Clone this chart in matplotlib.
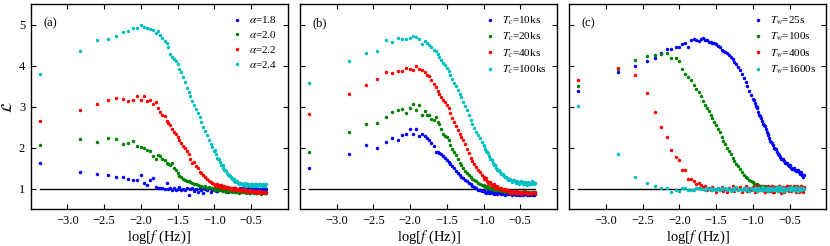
import matplotlib
matplotlib.use("Agg")
import matplotlib.pyplot as plt

plt.rcParams['font.family'] = ['Liberation Serif', 'DejaVu Serif']
plt.rcParams['mathtext.fontset'] = 'stix'

# log10 of frequency (Hz), shared by all series
LOG_F = [-3.375, -2.83, -2.60, -2.446, -2.334, -2.245, -2.171, -2.108, -2.053, -2.004,
         -1.96, -1.92, -1.88, -1.84, -1.80, -1.77, -1.74, -1.71,
         -1.675, -1.65, -1.625, -1.60, -1.575, -1.55, -1.525, -1.50, -1.475, -1.45,
         -1.425, -1.40, -1.375, -1.35, -1.325, -1.30, -1.275, -1.25, -1.225, -1.20,
         -1.175, -1.15, -1.125, -1.10, -1.075, -1.05, -1.025, -1.00, -0.975, -0.95,
         -0.925, -0.90, -0.875, -0.85, -0.825, -0.80, -0.775, -0.75, -0.725, -0.70,
         -0.675, -0.65, -0.625, -0.60, -0.575, -0.55, -0.525, -0.50, -0.475, -0.45,
         -0.425, -0.40, -0.375, -0.35, -0.325, -0.30]
# extra frequencies in the dense high-f part
LOG_F_TAIL = [-0.9875, -0.9625, -0.9375, -0.9125, -0.8875, -0.8625, -0.8375,
              -0.8125, -0.7875, -0.7625, -0.7375, -0.7125, -0.6875, -0.6625,
              -0.6375, -0.6125, -0.5875, -0.5625, -0.5375, -0.5125, -0.4875,
              -0.4625, -0.4375, -0.4125, -0.3875, -0.3625, -0.3375, -0.3125]

# panel (a): alpha
a_18 = [1.62, 1.42, 1.37, 1.35, 1.30, 1.29, 1.25, 1.22, 1.22, 1.34,
        1.15, 1.10, 1.22, 1.26, 1.05, 1.02, 1.01, 1.03,
        1.00, 1.14, 0.99, 1.01, 0.97, 1.03, 0.98, 1.00, 1.04, 0.96,
        1.00, 0.97, 1.02, 0.86, 0.99, 1.01, 0.95, 1.00, 0.93, 1.02,
        0.98, 0.90, 1.00, 0.96, 1.01, 0.92, 0.98, 1.00, 0.94, 0.99,
        1.01, 0.97, 1.00, 0.96, 1.02, 0.98, 1.00, 0.97, 1.01, 0.99,
        0.96, 1.02, 0.98, 1.00, 0.97, 1.01, 0.99, 0.96, 1.00, 0.98,
        1.02, 0.97, 1.00, 0.98, 0.96, 1.00]
a_18_tail = [1.03, 0.95, 1.01, 0.98, 1.04, 0.96, 1.00, 0.93, 1.02, 0.99, 0.95, 1.03, 0.97, 1.00,
             0.94, 1.02, 0.98, 1.01, 0.95, 1.03, 0.97, 1.00, 0.96, 1.02, 0.98, 0.95, 1.01, 0.97]
a_20 = [2.08, 2.21, 2.15, 2.23, 2.21, 2.09, 2.12, 2.17, 2.04, 2.02,
        1.99, 1.95, 1.92, 1.80, 1.73, 1.82, 1.80, 1.72,
        1.70, 1.64, 1.60, 1.58, 1.62, 1.50, 1.45, 1.38, 1.32, 1.28,
        1.25, 1.22, 1.20, 1.20, 1.16, 1.14, 1.12, 1.12, 1.09, 1.08,
        1.06, 1.05, 1.07, 1.03, 1.04, 1.01, 1.03, 1.00, 1.01, 0.98,
        0.99, 0.97, 0.98, 0.96, 0.97, 0.95, 0.96, 0.94, 0.96, 0.93,
        0.95, 0.94, 0.92, 0.95, 0.93, 0.94, 0.91, 0.93, 0.92, 0.94,
        0.91, 0.92, 0.90, 0.93, 0.89, 0.91]
a_20_tail = [0.97, 1.02, 0.96, 1.00, 0.94, 0.99, 0.93, 0.97, 0.95, 0.92, 0.97, 0.93, 0.96, 0.91,
             0.95, 0.92, 0.96, 0.90, 0.94, 0.91, 0.95, 0.89, 0.93, 0.90, 0.94, 0.88, 0.92, 0.90]
a_22 = [2.65, 2.93, 3.06, 3.18, 3.22, 3.19, 3.14, 3.17, 3.26, 3.18,
        3.26, 3.14, 3.18, 3.06, 3.12, 2.97, 2.88, 2.80,
        2.78, 2.66, 2.60, 2.56, 2.45, 2.38, 2.33, 2.27, 2.20, 2.12,
        2.05, 1.99, 1.92, 1.86, 1.72, 1.62, 1.65, 1.55, 1.50, 1.42,
        1.38, 1.33, 1.28, 1.24, 1.20, 1.17, 1.14, 1.12, 1.10, 1.08,
        1.09, 1.06, 1.07, 1.04, 1.05, 1.02, 1.03, 1.00, 1.01, 0.98,
        0.99, 0.97, 0.98, 0.96, 0.97, 0.95, 0.96, 0.94, 0.95, 0.93,
        0.95, 0.93, 0.94, 0.92, 0.93, 0.92]
a_22_tail = [1.08, 1.13, 1.05, 1.10, 1.03, 1.08, 1.01, 1.05, 0.99, 1.03, 0.98, 1.01, 0.96, 0.99,
             0.95, 0.99, 0.94, 0.97, 0.93, 0.96, 0.92, 0.95, 0.93, 0.91, 0.94, 0.90, 0.93, 0.91]
a_24 = [3.81, 4.36, 4.62, 4.65, 4.72, 4.83, 4.86, 4.92, 4.93, 5.00,
        4.95, 4.93, 4.89, 4.88, 4.80, 4.84, 4.76, 4.68,
        4.60, 4.56, 4.45, 4.30, 4.22, 4.17, 4.13, 4.05, 3.93, 3.85,
        3.74, 3.60, 3.46, 3.36, 3.26, 3.15, 3.05, 2.95, 2.85, 2.76,
        2.62, 2.51, 2.42, 2.32, 2.20, 2.10, 2.02, 1.93, 1.84, 1.74,
        1.65, 1.58, 1.52, 1.45, 1.38, 1.33, 1.28, 1.24, 1.20, 1.18,
        1.15, 1.14, 1.12, 1.13, 1.10, 1.12, 1.09, 1.11, 1.08, 1.12,
        1.10, 1.09, 1.11, 1.08, 1.10, 1.12]
a_24_tail = [1.95, 1.75, 1.72, 1.59, 1.58, 1.46, 1.44, 1.33, 1.32, 1.23, 1.24, 1.16, 1.18, 1.12,
             1.15, 1.09, 1.14, 1.08, 1.13, 1.07, 1.12, 1.08, 1.13, 1.07, 1.12, 1.06, 1.13, 1.08]

# panel (b): Tc
b_10 = [1.50, 1.85, 2.07, 1.99, 2.15, 2.25, 2.19, 2.31, 2.34, 2.46,
        2.35, 2.46, 2.28, 2.35, 2.28, 2.24, 2.20, 2.12,
        2.05, 1.91, 1.90, 1.88, 1.84, 1.80, 1.75, 1.70, 1.66, 1.60,
        1.55, 1.50, 1.43, 1.38, 1.34, 1.30, 1.26, 1.22, 1.18, 1.14,
        1.11, 1.08, 1.05, 1.02, 0.98, 0.96, 0.94, 0.95, 0.92, 0.93,
        0.91, 0.92, 0.90, 0.92, 0.89, 0.91, 0.90, 0.88, 0.91, 0.89,
        0.90, 0.88, 0.89, 0.87, 0.90, 0.88, 0.89, 0.86, 0.88, 0.87,
        0.89, 0.86, 0.88, 0.87, 0.85, 0.87]
b_10_tail = [0.97, 0.90, 0.95, 0.89, 0.93, 0.88, 0.93, 0.87, 0.92, 0.88, 0.91, 0.86, 0.92, 0.87,
             0.90, 0.86, 0.91, 0.85, 0.89, 0.86, 0.90, 0.84, 0.89, 0.86, 0.88, 0.85, 0.89, 0.86]
b_20 = [1.89, 2.39, 2.58, 2.61, 2.76, 2.88, 2.93, 2.96, 2.86, 2.98,
        3.06, 2.93, 3.05, 2.81, 2.90, 2.80, 2.80, 2.70,
        2.67, 2.76, 2.62, 2.58, 2.45, 2.35, 2.30, 2.27, 2.18, 2.08,
        1.98, 1.90, 1.83, 1.74, 1.63, 1.58, 1.50, 1.44, 1.38, 1.33,
        1.28, 1.24, 1.21, 1.18, 1.14, 1.12, 1.10, 1.08, 1.06, 1.05,
        1.03, 1.02, 1.00, 0.99, 0.97, 0.98, 0.96, 0.95, 0.96, 0.94,
        0.95, 0.93, 0.94, 0.92, 0.94, 0.93, 0.91, 0.93, 0.92, 0.94,
        0.91, 0.93, 0.92, 0.90, 0.93, 0.92]
b_20_tail = [1.10, 1.03, 1.08, 1.00, 1.04, 0.98, 1.01, 0.96, 0.99, 0.94, 0.97, 0.93, 0.96, 0.92,
             0.95, 0.91, 0.95, 0.90, 0.94, 0.91, 0.93, 0.89, 0.94, 0.90, 0.93, 0.89, 0.92, 0.90]
b_40 = [2.82, 3.32, 3.54, 3.67, 3.84, 3.82, 3.87, 3.87, 3.94, 3.92,
        3.90, 3.99, 3.92, 3.89, 3.85, 3.79, 3.76, 3.65,
        3.55, 3.48, 3.39, 3.32, 3.25, 3.18, 3.12, 3.05, 2.98, 2.85,
        2.74, 2.63, 2.53, 2.43, 2.35, 2.27, 2.18, 2.10, 1.98, 1.88,
        1.76, 1.68, 1.60, 1.53, 1.46, 1.40, 1.34, 1.30, 1.25, 1.20,
        1.16, 1.12, 1.10, 1.07, 1.05, 1.03, 1.01, 1.00, 0.98, 0.96,
        0.97, 0.95, 0.93, 0.94, 0.92, 0.93, 0.91, 0.92, 0.90, 0.92,
        0.91, 0.89, 0.91, 0.90, 0.92, 0.91]
b_40_tail = [1.24, 1.26, 1.15, 1.17, 1.08, 1.11, 1.03, 1.06, 0.99, 1.03, 0.96, 0.99, 0.94, 0.97,
             0.91, 0.95, 0.90, 0.94, 0.89, 0.93, 0.88, 0.92, 0.89, 0.92, 0.88, 0.91, 0.89, 0.90]
b_100 = [3.59, 4.11, 4.32, 4.36, 4.62, 4.58, 4.67, 4.65, 4.65, 4.67,
         4.74, 4.70, 4.65, 4.54, 4.60, 4.56, 4.52, 4.46,
         4.40, 4.36, 4.29, 4.22, 4.15, 4.08, 4.01, 3.94, 3.87, 3.77,
         3.68, 3.59, 3.50, 3.40, 3.32, 3.24, 3.12, 3.02, 2.92, 2.80,
         2.68, 2.58, 2.48, 2.39, 2.31, 2.23, 2.15, 2.06, 1.98, 1.90,
         1.80, 1.72, 1.64, 1.58, 1.52, 1.46, 1.41, 1.36, 1.32, 1.29,
         1.26, 1.23, 1.21, 1.19, 1.18, 1.16, 1.17, 1.14, 1.16, 1.13,
         1.15, 1.12, 1.15, 1.13, 1.16, 1.14]
b_100_tail = [2.05, 1.92, 1.87, 1.74, 1.70, 1.59, 1.57, 1.47, 1.45, 1.37, 1.36, 1.29, 1.30, 1.22,
              1.24, 1.17, 1.21, 1.14, 1.19, 1.12, 1.18, 1.11, 1.17, 1.10, 1.17, 1.11, 1.18, 1.12]

# panel (c): Tw
c_25 = [3.38, 3.84, 3.99, 4.13, 4.20, 4.32, 4.41, 4.41, 4.47, 4.46,
        4.54, 4.55, 4.47, 4.62, 4.66, 4.63, 4.60, 4.66,
        4.67, 4.64, 4.63, 4.59, 4.58, 4.56, 4.55, 4.53, 4.49, 4.45,
        4.40, 4.36, 4.34, 4.31, 4.26, 4.22, 4.17, 4.10, 4.04, 3.98,
        3.91, 3.80, 3.70, 3.60, 3.50, 3.38, 3.28, 3.20, 3.10, 3.00,
        2.88, 2.77, 2.66, 2.55, 2.45, 2.35, 2.24, 2.15, 2.06, 1.98,
        1.91, 1.83, 1.77, 1.72, 1.68, 1.63, 1.59, 1.56, 1.52, 1.49,
        1.47, 1.44, 1.41, 1.38, 1.35, 1.33]
c_25_tail = [3.18, 3.02, 2.97, 2.80, 2.74, 2.58, 2.53, 2.38, 2.32, 2.17, 2.13, 2.00, 1.97, 1.85,
             1.83, 1.73, 1.72, 1.64, 1.64, 1.55, 1.57, 1.48, 1.51, 1.43, 1.45, 1.37, 1.40, 1.30]
c_100 = [3.50, 3.93, 4.15, 4.25, 4.26, 4.29, 4.31, 4.20, 4.19, 4.13,
         3.92, 3.81, 3.72, 3.66, 3.53, 3.44, 3.36, 3.27,
         3.15, 3.05, 2.98, 2.90, 2.80, 2.74, 2.64, 2.55, 2.47, 2.39,
         2.27, 2.17, 2.10, 2.00, 1.93, 1.86, 1.76, 1.69, 1.61, 1.55,
         1.48, 1.41, 1.35, 1.30, 1.26, 1.22, 1.19, 1.16, 1.13, 1.11,
         1.09, 1.07, 1.06, 1.05, 1.04, 1.03, 1.05, 1.02, 1.04, 1.03,
         1.01, 1.04, 1.02, 1.03, 1.01, 1.04, 1.02, 1.03, 1.01, 1.04,
         1.02, 1.03, 1.02, 1.04, 1.01, 1.03]
c_100_tail = [1.12, 1.07, 1.10, 1.04, 1.07, 1.02, 1.06, 1.00, 1.05, 1.01, 1.06, 0.99, 1.05, 1.02,
              1.06, 1.00, 1.05, 1.01, 1.06, 0.99, 1.05, 1.00, 1.06, 1.01, 1.05, 0.99, 1.06, 1.00]
c_400 = [3.65, 3.94, 3.77, 3.34, 2.88, 2.50, 2.26, 1.95, 1.77, 1.70,
         1.46, 1.45, 1.23, 1.25, 1.20, 1.12, 1.15, 1.10,
         1.05, 1.08, 0.98, 1.03, 0.96, 1.04, 0.99, 0.93, 1.02, 0.97,
         1.05, 0.95, 1.00, 0.92, 1.03, 0.97, 1.06, 0.94, 1.01, 0.96,
         1.04, 0.93, 1.00, 1.07, 0.95, 1.02, 0.97, 1.05, 0.93, 1.01,
         1.08, 0.96, 1.03, 0.94, 1.00, 1.06, 0.95, 1.02, 0.92, 1.04,
         0.97, 1.07, 0.95, 1.01, 0.93, 1.05, 0.98, 1.06, 0.94, 1.03,
         0.96, 1.07, 0.93, 1.02, 0.95, 1.04]
c_400_tail = [0.99, 1.06, 0.94, 1.03, 0.97, 1.08, 0.92, 1.01, 1.05, 0.95, 1.07, 0.93, 1.02, 0.98,
              1.06, 0.91, 1.04, 0.97, 1.08, 0.94, 1.01, 0.96, 1.07, 0.92, 1.03, 0.98, 1.06, 0.93]
c_1600 = [3.01, 1.85, 1.30, 1.14, 1.06, 1.02, 1.02, 0.93, 0.96, 0.95,
          1.01, 1.02, 0.98, 0.97, 0.96, 1.01, 1.02, 0.99,
          1.00, 0.98, 1.01, 0.99, 1.03, 0.97, 1.00, 0.98, 1.02, 0.96,
          1.01, 0.99, 1.03, 0.97, 1.00, 0.95, 1.02, 0.98, 1.04, 0.97,
          1.00, 0.96, 1.03, 0.98, 1.01, 0.95, 1.03, 0.99, 1.02, 0.96,
          1.01, 0.97, 1.04, 0.98, 1.00, 0.95, 1.03, 0.97, 1.02, 0.96,
          1.04, 0.98, 1.01, 0.95, 1.03, 0.97, 1.02, 0.96, 1.04, 0.98,
          1.01, 0.95, 1.03, 0.97, 1.02, 0.99]
c_1600_tail = [0.97, 1.03, 0.95, 1.01, 0.98, 1.04, 0.96, 1.02, 0.94, 1.00, 1.03, 0.97, 1.01, 0.95,
               1.04, 0.98, 1.02, 0.94, 1.00, 1.03, 0.96, 1.02, 0.98, 1.04, 0.95, 1.01, 0.97, 1.03]

panels = [
    ('(a)', [(a_18, a_18_tail), (a_20, a_20_tail), (a_22, a_22_tail), (a_24, a_24_tail)],
     [r'$\alpha$=1.8', r'$\alpha$=2.0', r'$\alpha$=2.2', r'$\alpha$=2.4']),
    ('(b)', [(b_10, b_10_tail), (b_20, b_20_tail), (b_40, b_40_tail), (b_100, b_100_tail)],
     [r'$T_c$=10ks', r'$T_c$=20ks', r'$T_c$=40ks', r'$T_c$=100ks']),
    ('(c)', [(c_25, c_25_tail), (c_100, c_100_tail), (c_400, c_400_tail), (c_1600, c_1600_tail)],
     [r'$T_w$=25s', r'$T_w$=100s', r'$T_w$=400s', r'$T_w$=1600s']),
]
colors = ['b', 'g', 'r', 'c']

fig = plt.figure(figsize=(8.3, 2.46), dpi=100)
lefts = [0.037, 0.3614, 0.6859]

for i, (tag, series, labels) in enumerate(panels):
    ax = fig.add_axes([lefts[i], 0.149, 0.3096, 0.833])
    ax.plot([LOG_F[0], LOG_F[-1]], [1, 1], color='k', lw=1.0, zorder=1)
    for (ys, tail), col, lab in zip(series, colors, labels):
        ax.plot(LOG_F + LOG_F_TAIL, ys + tail, 'o', color=col, ms=2.5, mew=0,
                label=lab, zorder=2)
    ax.set_xlim(-3.5, 0)
    ax.set_ylim(0.5, 5.5)
    ax.set_xticks([-3.0, -2.5, -2.0, -1.5, -1.0, -0.5])
    ax.set_yticks([1, 2, 3, 4, 5])
    ax.tick_params(direction='in', top=True, right=True, length=3.5,
                   width=0.8, labelsize=9, pad=4)
    for sp in ax.spines.values():
        sp.set_linewidth(1.0)
    if i > 0:
        ax.set_yticklabels([])
    else:
        ax.set_ylabel(r'$\mathcal{L}$', fontsize=11)
        ax.yaxis.set_label_coords(-0.06, 0.5)
    ax.set_xlabel(r'log[$f$ (Hz)]', fontsize=10.5, labelpad=1)
    ax.text(0.048, 0.91, tag, transform=ax.transAxes, fontsize=9,
            ha='left', va='center')
    ax.legend(loc='upper right', frameon=False, numpoints=1, fontsize=8,
              handlelength=1.0, handletextpad=0.6, labelspacing=0.35,
              borderaxespad=0.5, markerscale=1.0)

fig.savefig('out.png', dpi=100)
